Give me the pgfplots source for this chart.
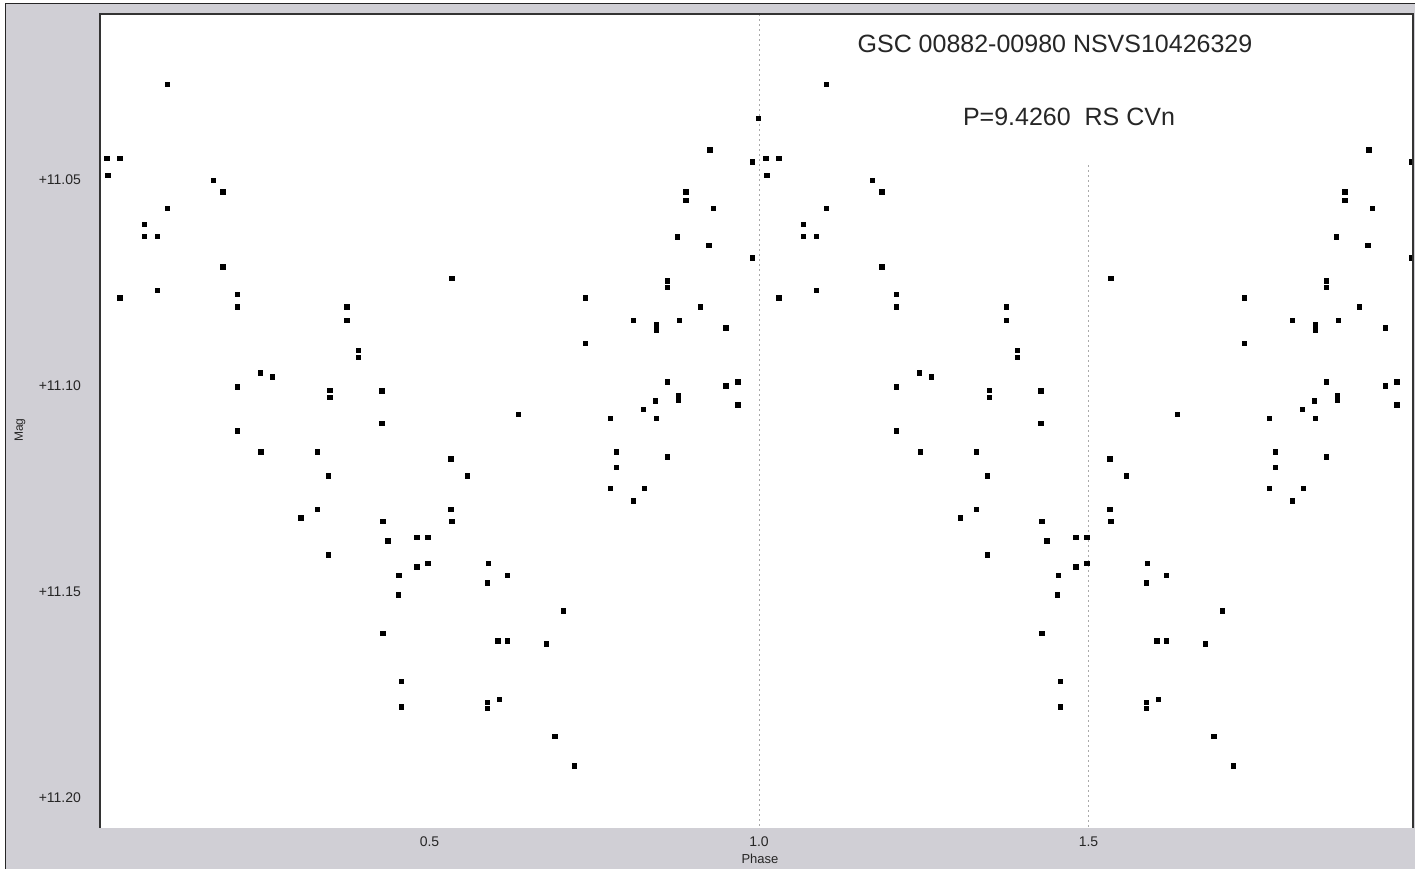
\documentclass[border=0pt]{standalone}
\usepackage{pgfplots}
\usepackage{pgfplotstable}
\pgfplotsset{compat=1.18}
\usepackage{fontspec}
\setmainfont{Liberation Sans}
\definecolor{bgcol}{RGB}{208,207,213}
\definecolor{gridcol}{RGB}{170,170,170}

\pgfplotstableread{
p m
0.0106 11.0447
0.0303 11.0447
0.0121 11.0488
0.0303 11.0786
0.1017 11.0267
0.1017 11.0568
0.0668 11.0607
0.0668 11.0636
0.0865 11.0636
0.0865 11.0767
0.1715 11.0500
0.1866 11.0529
0.1866 11.0711
0.2079 11.0777
0.2079 11.0808
0.2428 11.0968
0.2610 11.0978
0.2079 11.1002
0.2079 11.1109
0.5341 11.0738
0.3748 11.0808
0.3748 11.0840
0.3915 11.0913
0.3915 11.0930
0.3490 11.1010
0.3490 11.1027
0.4279 11.1012
0.4279 11.1090
0.6343 11.1068
0.5326 11.1177
0.3460 11.1218
0.5569 11.1218
0.5326 11.1299
0.4294 11.1328
0.5341 11.1328
0.4370 11.1376
0.4810 11.1367
0.4977 11.1367
0.3460 11.1410
0.4810 11.1439
0.4977 11.1430
0.5888 11.1430
0.2443 11.1160
0.3293 11.1160
0.3293 11.1299
0.3050 11.1320
0.4537 11.1459
0.4522 11.1507
0.6176 11.1459
0.5873 11.1478
0.7026 11.1546
0.4294 11.1600
0.6039 11.1619
0.6176 11.1619
0.6768 11.1626
0.4568 11.1718
0.4568 11.1779
0.5873 11.1769
0.5873 11.1782
0.6055 11.1760
0.6904 11.1850
0.7193 11.1922
0.9990 11.0350
0.9256 11.0427
0.9894 11.0456
0.8892 11.0529
0.8892 11.0549
0.9302 11.0568
0.8756 11.0638
0.9241 11.0658
0.9894 11.0689
0.8604 11.0745
0.8604 11.0760
0.7360 11.0786
0.9105 11.0808
0.8088 11.0840
0.8437 11.0850
0.8437 11.0864
0.8786 11.0840
0.9499 11.0859
0.7360 11.0896
0.8604 11.0990
0.8771 11.1022
0.8771 11.1034
0.9499 11.1000
0.9681 11.0990
0.8422 11.1036
0.8240 11.1056
0.9681 11.1046
0.7739 11.1078
0.8437 11.1078
0.7830 11.1160
0.8604 11.1172
0.7830 11.1197
0.7739 11.1248
0.8255 11.1248
0.8088 11.1279
}\datatable

\begin{document}
\begin{tikzpicture}
\useasboundingbox (0,0) rectangle (707.5pt,434.5pt);
\clip (0,0) rectangle (707.5pt,434.5pt);
\fill[white] (0,0) rectangle (707.5pt,434.5pt);
\fill[bgcol] (3pt,0) rectangle (707.5pt,432.5pt);
\draw[black!85, line width=0.9pt] (2.75pt,0) -- (2.75pt,432.75pt) -- (707.5pt,432.75pt);
\begin{axis}[
  at={(50pt,20.5pt)}, anchor=south west,
  scale only axis, width=656.5pt, height=407pt,
  xmin=0, xmax=1.9924, ymin=11.0097, ymax=11.2073, y dir=reverse,
  axis line style={draw=none},
  axis background/.style={fill=white},
  xtick={0.5,1.0,1.5}, xticklabels={0.5,1.0,1.5},
  ytick={11.05,11.10,11.15,11.20}, yticklabels={+11.05,+11.10,+11.15,+11.20},
  major tick length=0pt,
  tick label style={font=\fontsize{7}{8}\selectfont, text=black!85},
  yticklabel style={xshift=-6pt},
  xticklabel style={yshift=-1pt},
  clip=true,
]
\draw[gridcol, line width=0.5pt, dash pattern=on 1pt off 1.5pt] (axis cs:1,11.0097) -- (axis cs:1,11.2073);
\draw[gridcol, line width=0.5pt, dash pattern=on 1pt off 1.5pt] (axis cs:1.5,11.0464) -- (axis cs:1.5,11.2073);
\addplot[only marks, mark=square*, mark size=1.05pt, mark options={draw=none, fill=black}] table[x=p, y=m] {\datatable};
\addplot[only marks, mark=square*, mark size=1.05pt, mark options={draw=none, fill=black}] table[x expr=\thisrow{p}+1, y=m] {\datatable};
\end{axis}
\draw[black!80, line width=1pt] (current axis.south west) -- (current axis.north west) -- (current axis.north east) -- (current axis.south east);
\node[font=\fontsize{12.5}{14}\selectfont, text=black!85] at (527.5pt,412.5pt) {GSC 00882-00980 NSVS10426329};
\node[font=\fontsize{12.5}{14}\selectfont, text=black!85] at (534.5pt,376pt) {P=9.4260\ \ RS CVn};
\node[font=\fontsize{6}{7}\selectfont, rotate=90, text=black!85] at (10pt,219.5pt) {Mag};
\node[font=\fontsize{6.5}{7}\selectfont, text=black!85] at (380pt,5pt) {Phase};
\end{tikzpicture}
\end{document}
